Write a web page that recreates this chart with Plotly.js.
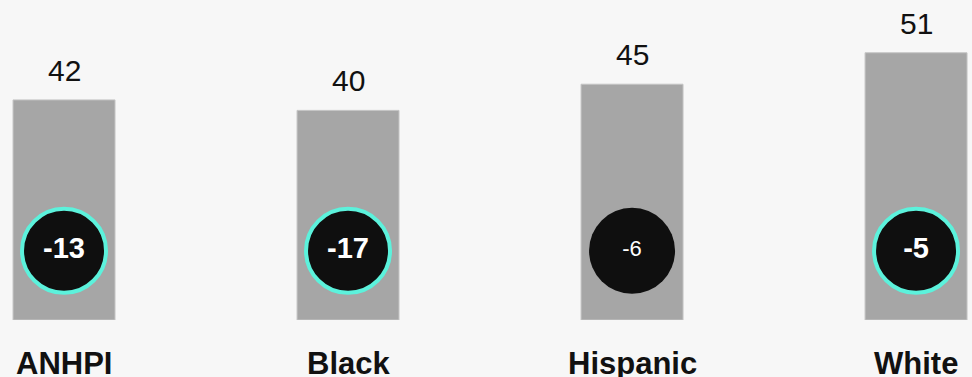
<!DOCTYPE html>
<html>
<head>
<meta charset="utf-8">
<script src="https://cdn.plot.ly/plotly-3.0.1.min.js"></script>
<style>html,body{margin:0;padding:0;background:#f7f7f7;}#chart{width:972px;height:377px;}</style>
</head>
<body>
<div id="chart"></div>
<script>
const categories = ["ANHPI", "Black", "Hispanic", "White"];
const barValues = [42, 40, 45, 51];
const gapValues = [-13, -17, -6, -5];
const highlighted = [true, true, false, true];
const circleLevel = 13.2;

const FONT = "Arial, 'Liberation Sans', Helvetica, sans-serif";

const barTrace = {
  type: "bar",
  x: categories,
  y: barValues,
  width: 0.359,
  marker: {color: "#a6a6a6", line: {color: "#c4c4c4", width: 1}},
  hoverinfo: "none",
  showlegend: false
};

const circleTrace = {
  type: "scatter",
  mode: "markers+text",
  x: categories,
  y: categories.map(() => circleLevel),
  text: gapValues.map(String),
  textposition: "middle center",
  textfont: {
    family: FONT,
    color: "#ffffff",
    size: highlighted.map(h => h ? 29 : 22),
    weight: highlighted.map(h => h ? 700 : 400)
  },
  marker: {
    symbol: "circle",
    color: "#0f0f0f",
    opacity: 1,
    size: highlighted.map(h => h ? 84 : 86),
    line: {color: "#5cf2dc", width: highlighted.map(h => h ? 4 : 0)}
  },
  hoverinfo: "none",
  showlegend: false
};

const annotations = [];
categories.forEach((c, i) => {
  annotations.push({
    x: c, y: barValues[i], xref: "x", yref: "y",
    text: String(barValues[i]), showarrow: false,
    yanchor: "bottom", yshift: 11,
    font: {family: FONT, size: 30, color: "#111111"}
  });
  annotations.push({
    x: c, y: 0, xref: "x", yref: "y",
    text: "<b>" + c + "</b>", showarrow: false,
    yanchor: "top", yshift: -24,
    font: {family: FONT, size: 31, color: "#111111"}
  });
});

const layout = {
  width: 972, height: 377,
  margin: {l: 0, r: 0, t: 0, b: 57, pad: 0},
  paper_bgcolor: "#f7f7f7",
  plot_bgcolor: "#f7f7f7",
  xaxis: {
    type: "category",
    range: [-0.2254, 3.197],
    showticklabels: false, showgrid: false, zeroline: false, showline: false, ticks: ""
  },
  yaxis: {
    range: [0, 61.07],
    showticklabels: false, showgrid: false, zeroline: false, showline: false, ticks: ""
  },
  annotations: annotations,
  showlegend: false
};

Plotly.newPlot("chart", [barTrace, circleTrace], layout, {displayModeBar: false, staticPlot: true});
</script>
</body>
</html>
